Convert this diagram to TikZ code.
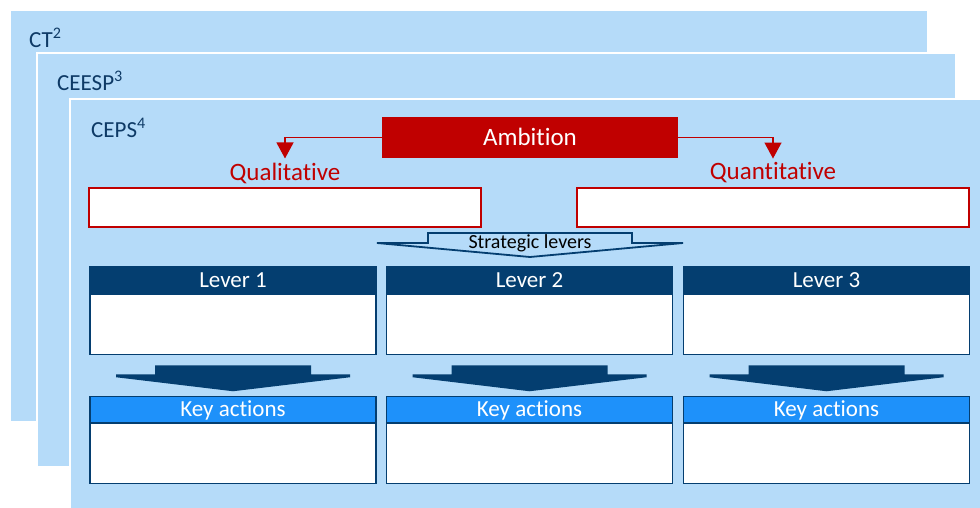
\documentclass[tikz,border=0pt]{standalone}
\usepackage{fontspec}
\setmainfont{Carlito}[Ligatures=NoCommon]
\usetikzlibrary{arrows.meta}

\definecolor{panelblue}{RGB}{181,219,249}
\definecolor{navy}{RGB}{4,62,112}
\definecolor{keyblue}{RGB}{30,145,250}
\definecolor{ambred}{RGB}{192,0,0}
\definecolor{labelnavy}{RGB}{14,58,102}

\begin{document}
\begin{tikzpicture}[
    x=1pt, y=-1pt,
    panel/.style={draw=white,line width=1.5pt,fill=panelblue},
    paneltext/.style={anchor=west,inner sep=0pt,text=labelnavy,font=\fontsize{23}{27}\selectfont},
    ambbox/.style={text height=16pt,text depth=0pt,fill=ambred,text=white,minimum width=296pt,
        minimum height=41pt,inner sep=0pt,font=\fontsize{25}{30}\selectfont},
    redlabel/.style={text=ambred,inner sep=0pt,font=\fontsize{25}{30}\selectfont},
    redbox/.style={draw=ambred,line width=1.8pt,fill=white,minimum width=392pt,minimum height=39pt},
    redarrow/.style={draw=ambred,line width=1.2pt,-{Triangle[width=17pt,length=16pt]}},
    leverhead/.style={text height=14.8pt,text depth=0pt,draw=navy,line width=1.5pt,fill=navy,
        text=white,minimum width=286pt,minimum height=27pt,inner sep=0pt,
        font=\fontsize{23}{27}\selectfont},
    keyhead/.style={leverhead,fill=keyblue,minimum height=26pt},
    bodybox/.style={draw=navy,line width=1.5pt,fill=white,minimum width=286pt,minimum height=60pt}
]
\useasboundingbox (0,0) rectangle (980,508);

% stacked panels
\path[panel] (10,10) rectangle (928,422);
\path[panel] (37,53) rectangle (956,467);
\path[panel] (70,99) rectangle (995,520);
\node[paneltext] (ct) at (29,38) {CT\textsuperscript{2}};
\node[paneltext] (ceesp) at (57,81) {CEESP\textsuperscript{3}};
\node[paneltext] (ceps) at (91,128) {CEPS\textsuperscript{4}};

% ambition
\node[ambbox] (amb) at (530,137.5) {Ambition};
\node[redlabel] (qual) at (285,173) {Qualitative};
\node[redlabel] (quant) at (773,173) {Quantitative};
\node[redbox] (qualbox) at (285,207.5) {};
\node[redbox] (quantbox) at (773,207.5) {};
\draw[redarrow] (amb.west) -| ([yshift=4pt]qual.north);
\draw[redarrow] (amb.east) -| ([yshift=4pt]quant.north);

% strategic levers
\node[inner sep=0pt,font=\fontsize{20}{24}\selectfont] (strat) at (530,243) {Strategic levers};
\draw[navy,line width=1.8pt,line join=miter] ([shift={(-102,-10)}]strat.center) -- ++(204,0)
    -- ++(0,10) -- ++(51,0) -- ++(-153,14) -- ++(-153,-14) -- ++(51,0) -- cycle;

% levers and key actions
\foreach \i/\cx in {1/233,2/529.5,3/826.5}{
    \node[bodybox] (lever\i body) at (\cx,324.5) {};
    \node[leverhead] (lever\i) at (\cx,280) {Lever \i};
    \node[bodybox] (key\i body) at (\cx,453.5) {};
    \node[keyhead] (key\i) at (\cx,409.5) {Key actions};
    \fill[navy] ([shift={(-78,10)}]lever\i body.south) -- ++(156,0) -- ++(0,9) -- ++(39,0)
        -- ++(0,3) -- ++(-117,14) -- ++(-117,-14) -- ++(0,-3) -- ++(39,0) -- cycle;
}
\end{tikzpicture}
\end{document}
